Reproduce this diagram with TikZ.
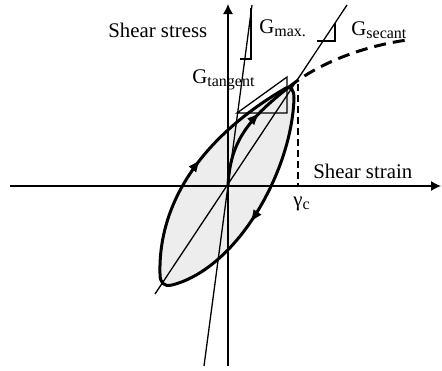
\documentclass[tikz,border=0pt]{standalone}
\usepackage{fontspec}
\setmainfont{Liberation Serif}
\usetikzlibrary{arrows.meta,decorations.markings}
\newcommand{\lblsub}[1]{\raisebox{-0.35ex}{\fontsize{8}{9}\selectfont #1}}

\begin{document}
\begin{tikzpicture}[x=0.5pt,y=-0.5pt,>={Latex[length=5pt,width=5pt]},font=\fontsize{10.4}{12}\selectfont]
  \tikzset{thinline/.style={line width=0.65pt},
    thickline/.style={line width=1.5pt},
    loopline/.style={thickline,fill=black!7,postaction={decorate},
      decoration={markings,
        mark=at position 0.245 with {\arrow{Latex[length=6.5pt,width=5pt]}},
        mark=at position 0.76 with {\arrow{Latex[length=6.5pt,width=5pt]}}}},
    midarrow/.style={postaction={decorate},decoration={markings,mark=at position #1 with {\arrow{Latex[length=6.5pt,width=5pt]}}}},
    lbl/.style={inner sep=0pt,anchor=base west}}
  \useasboundingbox (0,0) rectangle (442,370);
  % points of the loop and the axes
  \coordinate (origin) at (228,186);
  \coordinate (tip) at (289,87);
  \coordinate (loopleft) at (160,274);
  \coordinate (loopbottom) at (172,285);
  \coordinate (looptop) at (286,88);
  \coordinate (loopright) at (294,98);
  \coordinate (xstart) at (10,186);
  \coordinate (xend) at (441,186);
  \coordinate (ystart) at (228,366);
  \coordinate (yend) at (228,4);
  \coordinate (secstart) at (155,294);
  \coordinate (secend) at (347,5);
  \coordinate (maxstart) at (204,366);
  \coordinate (maxend) at (252,5);
  \coordinate (bbend) at (407,40);
  \coordinate (gammatop) at (298,84);
  \coordinate (gammafoot) at (298,186);
  % hysteresis loop
  \draw[loopline] (loopleft) .. controls (158,200) and (205,135) .. (looptop)
    .. controls (291,86) and (294,90) .. (loopright)
    .. controls (292,170) and (238,268) .. (loopbottom)
    .. controls (163,287) and (160,282) .. cycle;
  % axes
  \draw[thinline,->] (xstart) -- (xend);
  \draw[thinline,->] (ystart) -- (yend);
  % secant and initial modulus
  \draw[thinline] (secstart) -- (secend);
  \draw[thinline] (maxstart) -- (maxend);
  \draw[thinline] (317,41) -- (335,41) -- (335,23);
  \draw[thinline] (240,59) -- (251,59) -- (251,8);
  \draw[thinline] (237,113) -- (287,113) -- (287,77) -- cycle;
  % backbone
  \draw[thickline,dash pattern=on 6pt off 3.5pt] (tip) .. controls (320,62) and (365,46) .. (bbend);
  \draw[line width=1pt,dash pattern=on 3.5pt off 2pt] (gammatop) -- (gammafoot);
  \draw[thickline,midarrow=0.68] (origin) .. controls (230,140) and (250,118) .. (tip);
  % labels
  \node[lbl] (stress) at (108,37) {Shear stress};
  \node[lbl] (strain) at (313,178) {Shear strain};
  \node[lbl] (gmax) at (259,33) {G\lblsub{max.}};
  \node[lbl] (gsec) at (351,35) {G\lblsub{secant}};
  \node[lbl] (gtan) at (192,83) {G\lblsub{tangent}};
  \node[lbl] (gamma) at (293,206) {γ\lblsub{c}};
\end{tikzpicture}
\end{document}
